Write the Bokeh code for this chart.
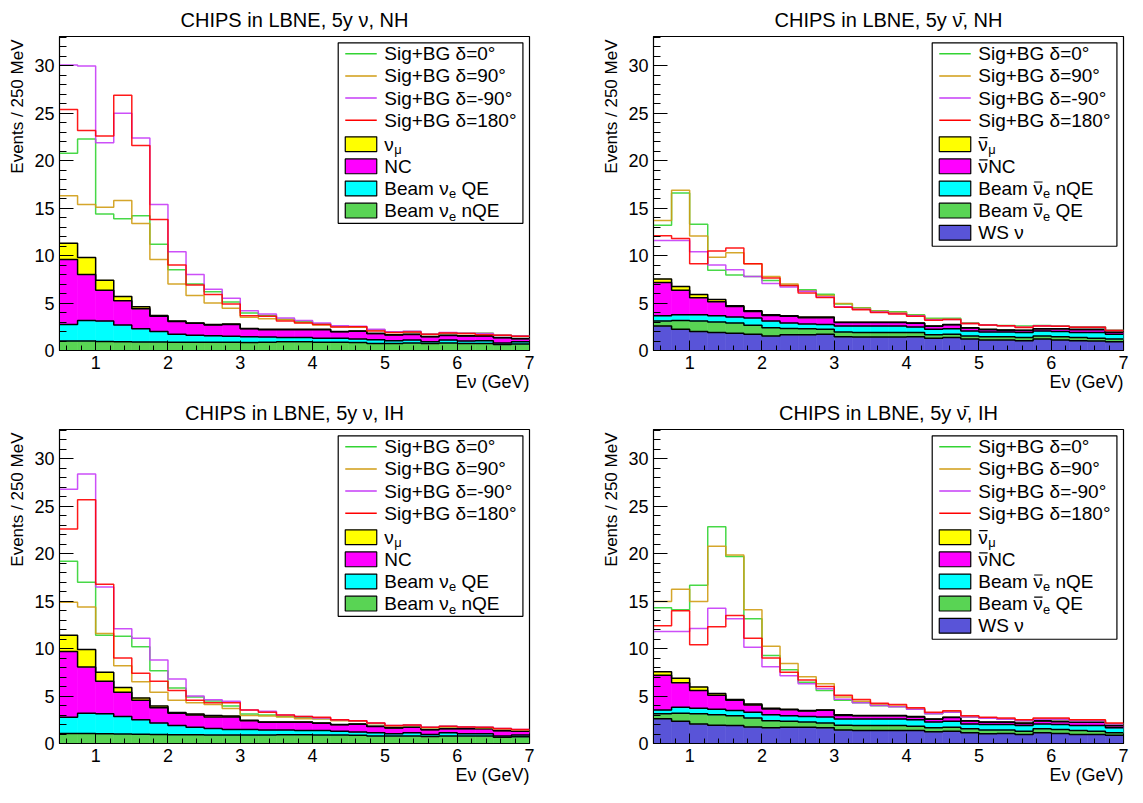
import math
from bokeh.plotting import figure
from bokeh.models import Range1d, SingleIntervalTicker, Label, Title
from bokeh.layouts import row, column
from bokeh.embed import file_html
from bokeh.resources import INLINE

# ---------------- data ----------------
BIN_EDGES = [0.5, 0.75, 1.0, 1.25, 1.5, 1.75, 2.0, 2.25, 2.5, 2.75, 3.0, 3.25, 3.5,
             3.75, 4.0, 4.25, 4.5, 4.75, 5.0, 5.25, 5.5, 5.75, 6.0, 6.25, 6.5, 6.75, 7.0]

TITLES = ["CHIPS in LBNE, 5y \u03bd, NH", "CHIPS in LBNE, 5y \u03bd\u0304, NH",
          "CHIPS in LBNE, 5y \u03bd, IH", "CHIPS in LBNE, 5y \u03bd\u0304, IH"]
SIGNAL_LABELS = ["Sig+BG \u03b4=0\u00b0", "Sig+BG \u03b4=90\u00b0", "Sig+BG \u03b4=-90\u00b0", "Sig+BG \u03b4=180\u00b0"]
Y_LABEL = "Events / 250 MeV"
X_LABEL = "E\u03bd (GeV)"

# --- NH, neutrino mode ---
nh_nu_d0 = [20.8, 22.3, 14.4, 13.9, 14.2, 11.2, 8.5, 7.0, 6.2, 5.1, 3.95, 3.7, 3.3, 3.05, 2.8, 2.55, 2.5, 2.2, 1.95, 2.0, 1.72, 1.88, 1.82, 1.83, 1.62, 1.52]
nh_nu_d90 = [16.3, 15.4, 15.1, 15.8, 13.4, 9.6, 7.0, 5.8, 5.0, 4.45, 3.5, 3.35, 3.25, 2.95, 2.7, 2.5, 2.45, 2.15, 1.9, 1.95, 1.68, 1.85, 1.78, 1.78, 1.6, 1.5]
nh_nu_dm90 = [30.1, 30.0, 21.9, 25.0, 22.4, 15.4, 10.4, 8.0, 6.45, 5.5, 4.2, 3.85, 3.43, 3.15, 2.9, 2.6, 2.55, 2.25, 1.98, 2.02, 1.72, 1.9, 1.82, 1.8, 1.62, 1.52]
nh_nu_d180 = [25.4, 23.2, 22.6, 26.9, 21.6, 13.8, 9.0, 6.9, 5.9, 4.9, 3.65, 3.6, 3.1, 2.9, 2.75, 2.47, 2.5, 2.06, 1.9, 1.95, 1.7, 1.85, 1.8, 1.65, 1.6, 1.5]
nh_nu_nue_nqe = [1.0, 1.0, 0.95, 0.93, 0.9, 0.9, 0.88, 0.87, 0.86, 0.86, 0.85, 0.86, 0.93, 0.93, 0.86, 0.86, 0.84, 0.75, 0.75, 0.78, 0.75, 0.78, 0.75, 0.75, 0.62, 0.69]
nh_nu_nue_qe = [1.75, 2.15, 2.15, 1.77, 1.4, 1.1, 0.82, 0.73, 0.69, 0.64, 0.6, 0.56, 0.44, 0.44, 0.44, 0.44, 0.36, 0.38, 0.28, 0.32, 0.18, 0.32, 0.25, 0.28, 0.17, 0.24]
nh_nu_nc = [6.85, 4.85, 3.25, 2.55, 2.1, 1.6, 1.35, 1.27, 1.15, 1.25, 0.85, 0.78, 0.83, 0.83, 0.9, 0.68, 0.83, 0.65, 0.6, 0.58, 0.52, 0.48, 0.53, 0.5, 0.56, 0.32]
nh_nu_numu = [1.7, 1.8, 1.05, 0.45, 0.2, 0.1, 0.05, 0.03, 0.05, 0.05, 0.03, 0.03, 0.03, 0.03, 0.03, 0.02, 0.02, 0.02, 0.02, 0.02, 0.02, 0.02, 0.02, 0.02, 0.02, 0.02]

# --- NH, antineutrino mode ---
nh_nubar_d0 = [13.2, 16.6, 13.3, 8.47, 7.95, 7.8, 7.37, 6.86, 6.4, 5.93, 4.9, 4.5, 4.2, 4.08, 3.77, 3.4, 3.4, 2.9, 2.7, 2.64, 2.57, 2.64, 2.57, 2.5, 2.5, 2.13]
nh_nubar_d90 = [13.7, 16.9, 12.07, 9.84, 10.3, 9.15, 7.8, 7.0, 6.3, 5.8, 4.95, 4.45, 4.15, 4.0, 3.7, 3.3, 3.3, 2.85, 2.65, 2.6, 2.5, 2.6, 2.55, 2.45, 2.45, 2.1]
nh_nubar_dm90 = [11.6, 11.6, 10.4, 9.0, 8.5, 7.8, 7.06, 6.7, 6.24, 5.65, 4.6, 4.35, 4.05, 3.9, 3.65, 3.25, 3.28, 2.85, 2.7, 2.62, 2.45, 2.6, 2.55, 2.45, 2.45, 2.1]
nh_nubar_d180 = [12.1, 11.8, 9.15, 10.5, 10.8, 9.15, 7.65, 6.86, 6.07, 5.6, 4.56, 4.3, 4.0, 3.84, 3.6, 3.2, 3.26, 2.85, 2.68, 2.6, 2.43, 2.57, 2.55, 2.45, 2.45, 2.1]
nh_nubar_ws = [2.57, 2.23, 1.99, 1.89, 1.82, 1.71, 1.54, 1.65, 1.65, 1.71, 1.44, 1.42, 1.42, 1.42, 1.44, 1.3, 1.37, 1.2, 1.1, 1.12, 1.03, 1.2, 1.12, 1.03, 1.0, 0.93]
nh_nubar_nue_qe = [0.53, 0.92, 1.11, 1.11, 1.08, 0.96, 0.86, 0.68, 0.65, 0.52, 0.51, 0.47, 0.47, 0.47, 0.45, 0.35, 0.34, 0.34, 0.34, 0.34, 0.34, 0.34, 0.34, 0.34, 0.3, 0.27]
nh_nubar_nue_nqe = [0.57, 0.62, 0.67, 0.67, 0.63, 0.76, 0.7, 0.57, 0.5, 0.51, 0.62, 0.68, 0.68, 0.68, 0.58, 0.58, 0.59, 0.52, 0.51, 0.49, 0.52, 0.52, 0.54, 0.52, 0.59, 0.51]
nh_nubar_nc = [3.49, 2.57, 1.78, 1.47, 1.1, 0.67, 0.6, 0.7, 0.65, 0.71, 0.38, 0.38, 0.38, 0.38, 0.4, 0.32, 0.42, 0.32, 0.25, 0.19, 0.21, 0.22, 0.28, 0.31, 0.31, 0.21]
nh_nubar_numu = [0.38, 0.41, 0.35, 0.24, 0.1, 0.1, 0.07, 0.07, 0.08, 0.08, 0.03, 0.03, 0.03, 0.03, 0.03, 0.02, 0.02, 0.02, 0.03, 0.02, 0.03, 0.02, 0.02, 0.03, 0.03, 0.03]

# --- IH, neutrino mode ---
ih_nu_d0 = [19.2, 17.0, 11.4, 11.3, 10.2, 7.66, 5.84, 4.9, 4.47, 3.95, 3.1, 3.0, 2.85, 2.75, 2.6, 2.45, 2.35, 2.1, 1.85, 1.9, 1.68, 1.78, 1.7, 1.68, 1.55, 1.45]
ih_nu_d90 = [14.9, 14.4, 11.6, 8.2, 6.5, 5.4, 4.57, 4.3, 4.1, 3.7, 2.95, 2.9, 2.8, 2.6, 2.6, 2.4, 2.35, 2.1, 1.85, 1.9, 1.65, 1.75, 1.7, 1.65, 1.5, 1.42]
ih_nu_dm90 = [26.8, 28.4, 16.5, 12.1, 11.1, 8.8, 6.8, 5.0, 4.6, 4.45, 3.54, 3.4, 3.0, 2.85, 2.7, 2.5, 2.4, 2.16, 1.9, 1.96, 1.72, 1.82, 1.75, 1.72, 1.58, 1.48]
ih_nu_d180 = [22.6, 25.7, 16.8, 9.0, 7.4, 6.56, 5.6, 4.57, 4.3, 4.3, 3.54, 3.3, 3.0, 2.85, 2.78, 2.5, 2.4, 2.16, 1.9, 1.96, 1.72, 1.82, 1.75, 1.72, 1.58, 1.48]
ih_nu_nue_nqe = [1.06, 1.06, 1.03, 1.0, 0.98, 0.96, 0.93, 0.93, 0.9, 0.9, 0.89, 0.89, 0.92, 0.92, 0.89, 0.89, 0.86, 0.78, 0.78, 0.8, 0.75, 0.8, 0.78, 0.78, 0.65, 0.7]
ih_nu_nue_qe = [1.72, 2.14, 2.1, 1.85, 1.52, 1.2, 0.96, 0.79, 0.68, 0.58, 0.59, 0.52, 0.49, 0.45, 0.48, 0.41, 0.34, 0.35, 0.25, 0.33, 0.21, 0.33, 0.25, 0.25, 0.14, 0.19]
ih_nu_nc = [6.92, 4.87, 3.43, 2.55, 2.07, 1.62, 1.31, 1.28, 1.22, 1.32, 0.92, 0.84, 0.84, 0.88, 0.77, 0.68, 0.84, 0.67, 0.6, 0.57, 0.5, 0.43, 0.53, 0.53, 0.56, 0.39]
ih_nu_numu = [1.7, 1.83, 0.94, 0.5, 0.23, 0.17, 0.06, 0.1, 0.15, 0.1, 0.04, 0.02, 0.02, 0.02, 0.02, 0.02, 0.02, 0.02, 0.02, 0.02, 0.02, 0.02, 0.02, 0.02, 0.02, 0.02]

# --- IH, antineutrino mode ---
ih_nubar_d0 = [14.3, 14.1, 16.67, 22.85, 19.7, 13.16, 9.28, 7.77, 6.46, 5.6, 4.57, 4.3, 3.99, 3.88, 3.6, 3.13, 3.3, 2.8, 2.65, 2.55, 2.4, 2.55, 2.55, 2.4, 2.4, 2.05]
ih_nubar_d90 = [14.98, 16.25, 14.98, 20.8, 19.86, 14.1, 10.24, 8.42, 7.04, 6.3, 4.9, 4.45, 4.1, 3.95, 3.65, 3.2, 3.35, 2.85, 2.7, 2.6, 2.45, 2.6, 2.6, 2.45, 2.45, 2.1]
ih_nubar_dm90 = [11.8, 11.8, 12.13, 14.26, 13.16, 10.14, 8.1, 7.15, 6.3, 5.77, 4.67, 4.3, 4.0, 3.88, 3.6, 3.13, 3.3, 2.8, 2.65, 2.55, 2.4, 2.55, 2.55, 2.4, 2.4, 2.05]
ih_nubar_d180 = [12.4, 14.0, 10.4, 12.3, 13.5, 11.1, 9.0, 7.5, 6.7, 6.0, 5.08, 4.64, 4.23, 4.12, 3.78, 3.3, 3.44, 2.92, 2.78, 2.68, 2.5, 2.68, 2.68, 2.5, 2.5, 2.16]
ih_nubar_ws = [2.61, 2.34, 2.06, 1.92, 1.89, 1.75, 1.65, 1.72, 1.72, 1.65, 1.41, 1.37, 1.37, 1.37, 1.37, 1.24, 1.3, 1.13, 1.03, 1.06, 0.96, 1.13, 1.06, 0.96, 0.96, 0.86]
ih_nubar_nue_qe = [0.52, 0.86, 1.07, 1.1, 1.03, 0.93, 0.75, 0.62, 0.55, 0.51, 0.51, 0.52, 0.52, 0.52, 0.45, 0.41, 0.42, 0.42, 0.38, 0.35, 0.34, 0.42, 0.42, 0.41, 0.34, 0.27]
ih_nubar_nue_nqe = [0.41, 0.61, 0.58, 0.58, 0.55, 0.62, 0.62, 0.58, 0.58, 0.64, 0.66, 0.69, 0.69, 0.69, 0.68, 0.62, 0.62, 0.51, 0.59, 0.59, 0.59, 0.51, 0.52, 0.52, 0.59, 0.52]
ih_nubar_nc = [3.66, 2.59, 1.89, 1.49, 1.1, 0.75, 0.62, 0.63, 0.57, 0.7, 0.37, 0.34, 0.34, 0.34, 0.3, 0.28, 0.4, 0.3, 0.23, 0.23, 0.23, 0.3, 0.3, 0.34, 0.34, 0.23]
ih_nubar_numu = [0.36, 0.47, 0.35, 0.17, 0.07, 0.11, 0.07, 0.05, 0.05, 0.04, 0.07, 0.04, 0.04, 0.04, 0.05, 0.03, 0.04, 0.04, 0.04, 0.04, 0.04, 0.04, 0.04, 0.04, 0.04, 0.04]

# ---------------- style ----------------
FONT = "Liberation Sans"
C_YELLOW, C_MAGENTA, C_CYAN, C_GREEN, C_BLUE = "#ffff00", "#ff00ff", "#00ffff", "#59d454", "#5954d8"
C_D0, C_D90, C_DM90, C_D180 = "#33d433", "#d09c14", "#c63cf7", "#ff0000"
SIG_COLORS = [C_D0, C_D90, C_DM90, C_D180]

FW, FH = 470, 314
XMIN, XMAX, YMIN, YMAX = 0.5, 7.0, 0.0, 33.1
LEG_SIZE = 19

CHAR_W = {' ': 0.278, 'B': 0.667, 'e': 0.556, 'a': 0.556, 'm': 0.833, '\u03bd': 0.52,
          '\u03bc': 0.576, 'Q': 0.778, 'E': 0.667, 'n': 0.556, 'N': 0.722, 'C': 0.722,
          'W': 0.944, 'S': 0.667}


def tw(s, size):
    return sum(CHAR_W.get(c, 0.556) for c in s) * size


def X(px):
    return XMIN + px * (XMAX - XMIN) / FW


def Y(px):
    return YMIN + px * (YMAX - YMIN) / FH


def rich(p, x_px, yc_px, segs, size):
    """segs: list of (text, kind); kind 'n' normal, 's' subscript, 'b' normal with overbar"""
    cur = x_px
    for txt, kind in segs:
        fs = size * 0.68 if kind == "s" else size
        lead = len(txt) - len(txt.lstrip(" "))
        shown = txt.lstrip(" ")
        x0 = cur + tw(" " * lead, fs)
        yy = yc_px - 5.5 if kind == "s" else yc_px
        p.add_layout(Label(x=X(x0), y=Y(yy), text=shown, text_font=FONT,
                           text_font_size=f"{fs:.1f}px", text_align="left",
                           text_baseline="middle", text_color="black"))
        if kind == "b":
            p.line(x=[X(x0 + 1.0), X(x0 + tw(shown, fs) - 0.5)], y=[Y(yc_px + 6.5), Y(yc_px + 6.5)],
                   line_color="black", line_width=1.2)
        cur += tw(txt, fs)


def make_panel(title, signals, stack, legend_entries, border_left, border_right):
    p = figure(frame_width=FW, frame_height=FH, x_range=Range1d(XMIN, XMAX),
               y_range=Range1d(YMIN, YMAX), output_backend="svg", toolbar_location=None,
               min_border_left=border_left, min_border_right=border_right,
               min_border_top=0, min_border_bottom=0)
    p.background_fill_color = "white"
    p.border_fill_color = "white"
    p.outline_line_color = "black"
    p.outline_line_width = 1.2
    p.outline_line_alpha = 1.0
    p.xgrid.visible = False
    p.ygrid.visible = False

    # stacked backgrounds
    lower = [0.0] * (len(BIN_EDGES) - 1)
    tops = []
    for vals, color in stack:
        upper = [l + v for l, v in zip(lower, vals)]
        p.quad(left=BIN_EDGES[:-1], right=BIN_EDGES[1:], bottom=lower, top=upper,
               fill_color=color, line_color=color, line_width=0.6)
        tops.append(upper)
        lower = upper
    for t in tops:
        p.step(x=BIN_EDGES, y=t + [t[-1]], mode="after", line_color="black", line_width=1.5)

    # signal + background curves
    for vals, color in zip(signals, SIG_COLORS):
        p.step(x=BIN_EDGES, y=vals + [vals[-1]], mode="after", line_color=color,
               line_width=1.5, line_alpha=0.9)

    # axes
    p.xaxis.ticker = SingleIntervalTicker(interval=1, num_minor_ticks=5)
    p.yaxis.ticker = SingleIntervalTicker(interval=5, num_minor_ticks=5)
    for ax in (p.xaxis[0], p.yaxis[0]):
        ax.major_tick_out = 0
        ax.minor_tick_out = 0
        ax.axis_line_color = "black"
        ax.major_tick_line_color = "black"
        ax.minor_tick_line_color = "black"
        ax.major_label_text_font = FONT
        ax.major_label_text_font_size = "18px"
        ax.major_label_text_color = "black"
    p.xaxis.major_tick_in = 10
    p.xaxis.minor_tick_in = 5
    p.yaxis.major_tick_in = 14
    p.yaxis.minor_tick_in = 7
    p.yaxis.major_label_standoff = 5
    p.xaxis.major_label_standoff = 5

    # legend box
    n = len(legend_entries)
    box_bottom = 0.405 if n == 8 else 0.332
    p.quad(left=[X(0.593 * FW)], right=[X(0.986 * FW)], bottom=[Y(box_bottom * FH)],
           top=[Y(0.980 * FH)], fill_color="white", line_color="black", line_width=1.2)
    lx0, lx1 = 0.608 * FW, 0.675 * FW
    for i, (kind, color, segs) in enumerate(legend_entries):
        yc = (0.945 - 0.0705 * i - (0.006 if i >= 4 else 0.0)) * FH
        if kind == "line":
            p.line(x=[X(lx0), X(lx1)], y=[Y(yc), Y(yc)], line_color=color, line_width=1.5)
        else:
            p.quad(left=[X(lx0)], right=[X(lx1)], bottom=[Y(yc - 7.4)], top=[Y(yc + 7.4)],
                   fill_color=color, line_color="black", line_width=1.2)
        rich(p, 0.691 * FW, yc, segs, LEG_SIZE)

    # titles (placed in side panels so that they are not clipped by the frame)
    p.add_layout(Title(text=title, text_font=FONT, text_font_size="20px",
                       text_font_style="normal", text_color="black", align="center",
                       standoff=12), "above")
    p.add_layout(Title(text=Y_LABEL, text_font=FONT, text_font_size="17px",
                       text_font_style="normal", text_color="black", align="right",
                       offset=3, standoff=10), "left")
    p.add_layout(Title(text=X_LABEL, text_font=FONT, text_font_size="18px",
                       text_font_style="normal", text_color="black", align="right",
                       offset=0, standoff=0, vertical_align="top"), "below")
    return p


NU_LEGEND = [("line", c, [(s, "n")]) for c, s in zip(SIG_COLORS, SIGNAL_LABELS)] + [
    ("box", C_YELLOW, [("\u03bd", "n"), ("\u03bc", "s")]),
    ("box", C_MAGENTA, [("NC", "n")]),
    ("box", C_CYAN, [("Beam \u03bd", "n"), ("e", "s"), (" QE", "n")]),
    ("box", C_GREEN, [("Beam \u03bd", "n"), ("e", "s"), (" nQE", "n")]),
]
NUBAR_LEGEND = [("line", c, [(s, "n")]) for c, s in zip(SIG_COLORS, SIGNAL_LABELS)] + [
    ("box", C_YELLOW, [("\u03bd", "b"), ("\u03bc", "s")]),
    ("box", C_MAGENTA, [("\u03bd", "b"), ("NC", "n")]),
    ("box", C_CYAN, [("Beam ", "n"), ("\u03bd", "b"), ("e", "s"), (" nQE", "n")]),
    ("box", C_GREEN, [("Beam ", "n"), ("\u03bd", "b"), ("e", "s"), (" QE", "n")]),
    ("box", C_BLUE, [("WS \u03bd", "n")]),
]

p1 = make_panel(TITLES[0], [nh_nu_d0, nh_nu_d90, nh_nu_dm90, nh_nu_d180],
                [(nh_nu_nue_nqe, C_GREEN), (nh_nu_nue_qe, C_CYAN), (nh_nu_nc, C_MAGENTA), (nh_nu_numu, C_YELLOW)],
                NU_LEGEND, 55, 38)
p2 = make_panel(TITLES[1], [nh_nubar_d0, nh_nubar_d90, nh_nubar_dm90, nh_nubar_d180],
                [(nh_nubar_ws, C_BLUE), (nh_nubar_nue_qe, C_GREEN), (nh_nubar_nue_nqe, C_CYAN),
                 (nh_nubar_nc, C_MAGENTA), (nh_nubar_numu, C_YELLOW)],
                NUBAR_LEGEND, 86, 6)
p3 = make_panel(TITLES[2], [ih_nu_d0, ih_nu_d90, ih_nu_dm90, ih_nu_d180],
                [(ih_nu_nue_nqe, C_GREEN), (ih_nu_nue_qe, C_CYAN), (ih_nu_nc, C_MAGENTA), (ih_nu_numu, C_YELLOW)],
                NU_LEGEND, 55, 38)
p4 = make_panel(TITLES[3], [ih_nubar_d0, ih_nubar_d90, ih_nubar_dm90, ih_nubar_d180],
                [(ih_nubar_ws, C_BLUE), (ih_nubar_nue_qe, C_GREEN), (ih_nubar_nue_nqe, C_CYAN),
                 (ih_nubar_nc, C_MAGENTA), (ih_nubar_numu, C_YELLOW)],
                NUBAR_LEGEND, 86, 6)

layout = column(row(p1, p2), row(p3, p4))
open("out.html", "w").write(file_html(layout, INLINE))
